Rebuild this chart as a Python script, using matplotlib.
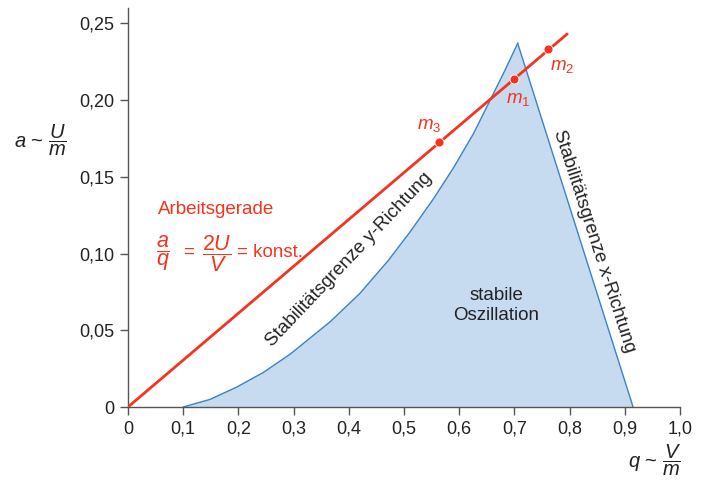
import matplotlib
matplotlib.use("Agg")
import matplotlib.pyplot as plt
from matplotlib.ticker import FuncFormatter

plt.rcParams.update({"font.family": ["Liberation Sans", "DejaVu Sans"],
                     "mathtext.fontset": "custom",
                     "mathtext.it": "Liberation Sans:italic",
                     "mathtext.rm": "Liberation Sans"})

# stability region boundary
left_q = [0.100, 0.149, 0.197, 0.245, 0.294, 0.366, 0.420, 0.472, 0.511,
          0.553, 0.589, 0.626, 0.656, 0.681, 0.706]
left_a = [0.0, 0.005, 0.013, 0.0225, 0.0345, 0.0555, 0.074, 0.0957, 0.1141,
          0.1355, 0.1555, 0.1782, 0.1999, 0.218, 0.237]
right_q = [0.706, 0.915]
right_a = [0.237, 0.0]

# Arbeitsgerade and operating points
line_q = [0.0, 0.797]
line_a = [0.0, 0.2435]
pts_q = [0.699, 0.761, 0.563]
pts_a = [0.2135, 0.233, 0.1725]
pts_lab = [r"$m_1$", r"$m_2$", r"$m_3$"]

RED = "#f5331f"
BLUE_FILL = "#c6dbf0"
BLUE_EDGE = "#3d82c4"
GRAY = "#555555"
DARK = "#222222"

fig = plt.figure(figsize=(7.04, 4.86), dpi=100)
ax = fig.add_axes([128 / 704, 79 / 486, 552 / 704, 399 / 486])

bq = left_q + right_q[1:]
ba = left_a + right_a[1:]
ax.fill(bq, ba, color=BLUE_FILL, lw=0, zorder=1)
ax.plot(left_q, left_a, color=BLUE_EDGE, lw=1.0, zorder=2)
ax.plot(right_q, right_a, color=BLUE_EDGE, lw=1.0, zorder=2)

ax.plot(line_q, line_a, color=RED, lw=2.0, zorder=3, solid_capstyle="butt")
ax.scatter(pts_q, pts_a, s=42, color=RED, edgecolor="white", linewidth=0.6, zorder=4)
offs = [(0.008, -0.013), (0.025, -0.011), (-0.018, 0.011)]
for q, a, lab, (dx, dy) in zip(pts_q, pts_a, pts_lab, offs):
    ax.text(q + dx, a + dy, lab, color=RED, fontsize=13.5, ha="center", va="center", zorder=5)

ax.text(0.055, 0.129, "Arbeitsgerade", color=RED, fontsize=13.5, ha="left", va="center")
ax.text(0.0634, 0.100, r"$\dfrac{a}{q}$", color=RED, fontsize=15.5, ha="center", va="center")
ax.text(0.1105, 0.1005, "=", color=RED, fontsize=13.5, ha="center", va="center")
ax.text(0.161, 0.100, r"$\dfrac{2U}{V}$", color=RED, fontsize=15.5, ha="center", va="center")
ax.text(0.1975, 0.1005, "= konst.", color=RED, fontsize=13.5, ha="left", va="center")

ax.text(0.400, 0.096, "Stabilitätsgrenze y-Richtung", color=DARK, fontsize=13.5,
        rotation=46.5, ha="center", va="center", rotation_mode="anchor")
ax.text(0.845, 0.108, "Stabilitätsgrenze x-Richtung", color=DARK, fontsize=13.5,
        rotation=-72, ha="center", va="center", rotation_mode="anchor")
ax.text(0.667, 0.066, "stabile\nOszillation", color=DARK, fontsize=13.5,
        ha="center", va="center", linespacing=1.2)

ax.set_xlim(0, 1.0)
ax.set_ylim(0, 0.26)
ax.set_xticks([i / 10 for i in range(11)])
ax.set_yticks([0, 0.05, 0.10, 0.15, 0.20, 0.25])
ax.xaxis.set_major_formatter(FuncFormatter(lambda v, p: "0" if v == 0 else f"{v:.1f}".replace(".", ",")))
ax.yaxis.set_major_formatter(FuncFormatter(lambda v, p: "0" if v == 0 else f"{v:.2f}".replace(".", ",")))
for s in ("top", "right"):
    ax.spines[s].set_visible(False)
for s in ("left", "bottom"):
    ax.spines[s].set_color(GRAY)
    ax.spines[s].set_linewidth(1.0)
ax.tick_params(direction="out", length=6, width=1.0, color=GRAY, labelsize=13,
               labelcolor=DARK, pad=4)

fig.text(40 / 704, 1 - 140 / 486, r"$a$ ~ $\dfrac{U}{m}$", fontsize=14.5, color=DARK,
         ha="center", va="center")
fig.text(655 / 704, 1 - 460 / 486, r"$q$ ~ $\dfrac{V}{m}$", fontsize=14.5, color=DARK,
         ha="center", va="center")

fig.savefig("out.png", dpi=100)
